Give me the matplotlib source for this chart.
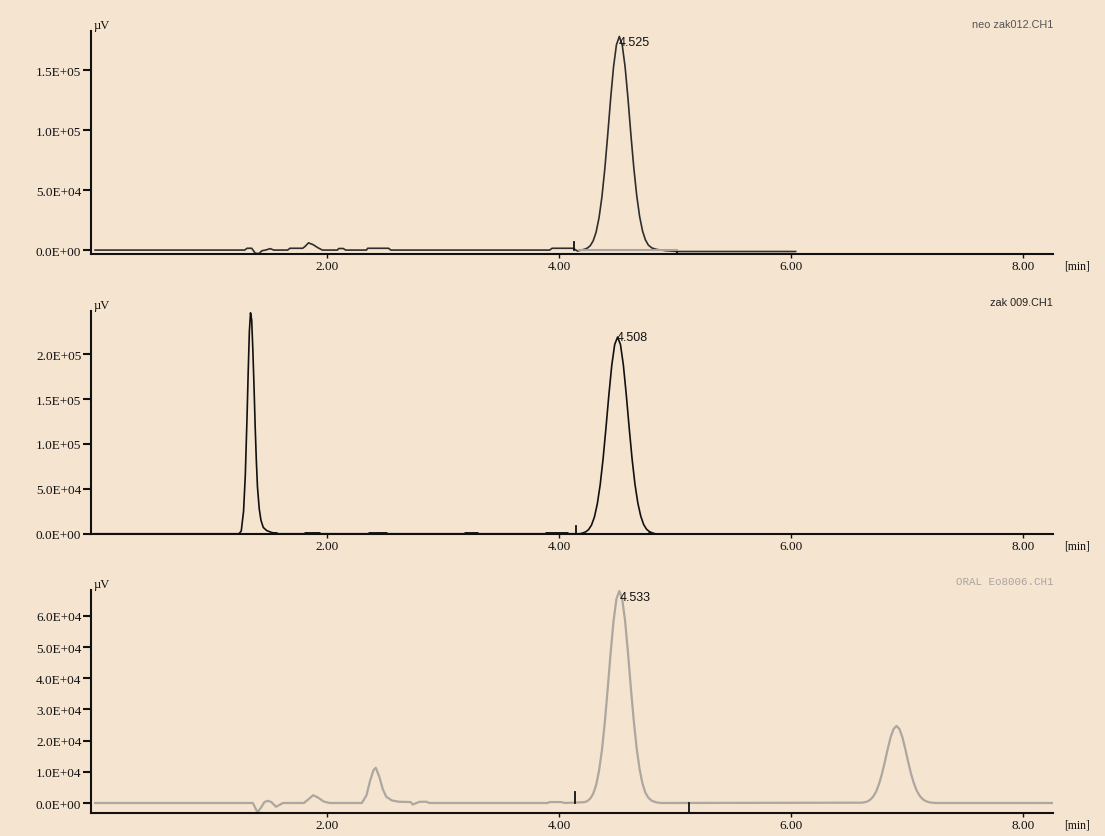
"""Three stacked HPLC chromatograms (uV vs. retention time in minutes)."""

import matplotlib

matplotlib.use("Agg")
import matplotlib.pyplot as plt
from matplotlib.ticker import FixedLocator, FuncFormatter

BG = "#f5e4d0"

# ---- trace 1: neo zak012.CH1 ----------------------------------------------
t1 = [0.00, 1.29, 1.31, 1.35, 1.38, 1.41, 1.44, 1.47, 1.51, 1.54, 1.66, 1.68,
      1.79, 1.81, 1.84, 1.88, 1.92, 1.96, 2.09, 2.10, 2.14, 2.16, 2.34, 2.35,
      2.53, 2.55, 3.00, 3.50, 3.92, 3.94, 4.12, 4.16, 4.22, 4.245, 4.27, 4.295,
      4.32, 4.345, 4.37, 4.395, 4.42, 4.445, 4.47, 4.495, 4.52, 4.545, 4.57,
      4.595, 4.62, 4.645, 4.67, 4.695, 4.72, 4.745, 4.77, 4.80, 4.84, 4.88,
      4.92, 5.02, 5.50, 6.04]
v1 = [0, 0, 1500, 1500, -2500, -3000, -500, 0, 1200, 0, 0, 1500,
      1500, 3000, 6000, 4500, 2000, 0, 0, 1300, 1300, 0, 0, 1500,
      1500, 0, 0, 0, 0, 1500, 1500, -800, 700, 1700, 3700, 7800,
      15000, 26900, 44300, 67800, 96000, 126000, 152500, 171000, 178000, 171000, 152500,
      126000, 96000, 68500, 45500, 28000, 16000, 8500, 4200, 1800, 600, 0,
      -500, -1200, -1200, -1200]

# ---- trace 2: zak 009.CH1 --------------------------------------------------
t2 = [0.00, 1.24, 1.26, 1.28, 1.295, 1.31, 1.32, 1.33, 1.34, 1.35, 1.36, 1.37,
      1.38, 1.39, 1.40, 1.415, 1.43, 1.45, 1.48, 1.52, 1.56, 1.58, 4.18, 4.205,
      4.23, 4.255, 4.28, 4.305, 4.33, 4.355, 4.38, 4.405, 4.43, 4.455, 4.48,
      4.505, 4.53, 4.555, 4.58, 4.605, 4.63, 4.655, 4.68, 4.705, 4.73, 4.755,
      4.78, 4.805, 4.83]
v2 = [0, 0, 3000, 25000, 65000, 130000, 180000, 225000, 246000, 238000, 205000,
      165000, 120000, 82000, 52000, 28000, 15000, 7000, 3500, 1500, 300, 0, 0, 850,
      2060, 4600, 9640, 18500, 33100, 54500, 83400, 118000, 154800, 187700, 210700,
      219000, 210700, 187700, 154800, 118000, 83400, 55000, 34000, 19500, 10200, 5000,
      2300, 900, 0]

# ---- trace 3: ORAL Eo8006.CH1 ----------------------------------------------
t3 = [0.00, 1.36, 1.38, 1.40, 1.43, 1.46, 1.49, 1.52, 1.56, 1.59, 1.62, 1.80,
      1.84, 1.88, 1.92, 1.97, 2.02, 2.30, 2.34, 2.37, 2.40, 2.42, 2.45, 2.48,
      2.51, 2.56, 2.62, 2.72, 2.74, 2.77, 2.80, 2.86, 2.88, 3.90, 3.92, 4.02,
      4.05, 4.22, 4.245, 4.27, 4.295, 4.32, 4.345, 4.37, 4.395, 4.42, 4.445,
      4.47, 4.495, 4.52, 4.545, 4.57, 4.595, 4.62, 4.645, 4.67, 4.695, 4.72,
      4.745, 4.77, 4.80, 4.84, 4.88, 6.61, 6.635, 6.66, 6.685, 6.71, 6.735,
      6.76, 6.785, 6.81, 6.835, 6.86, 6.885, 6.91, 6.935, 6.96, 6.985, 7.01,
      7.035, 7.06, 7.085, 7.11, 7.135, 7.16, 7.185, 7.21, 7.25, 8.26]
v3 = [0, 0, -1500, -3000, -1500, 300, 700, 300, -1200, -600, 0, 0,
      1200, 2500, 1800, 500, 0, 0, 2500, 7000, 10500, 11300, 8500, 4500,
      2000, 800, 400, 300, -500, 0, 400, 400, 0, 0, 300, 300,
      0, 265, 640, 1430, 3000, 5750, 10300, 16900, 25900, 36650, 48100,
      58300, 65400, 68000, 65400, 58300, 48100, 36650, 26200, 17400, 10800, 6200,
      3300, 1700, 700, 200, 0, 100, 230, 520, 1090, 2090, 3730,
      6150, 9410, 13300, 17460, 21170, 23760, 24700, 23760, 21170, 17460, 13300,
      9410, 6300, 3900, 2300, 1250, 650, 300, 120, 0, 0]

# integration marks: (time, low, high)
marks1 = [(4.13, 0, 7000), (5.02, -3300, -1200)]
marks2 = [(4.15, 0, 9000)]
marks3 = [(4.14, 0, 3500), (5.12, -3200, 0)]

# thick baseline marks on trace 2
thick2 = [(1.53, 1.57), (1.80, 1.94), (2.35, 2.52), (3.18, 3.30), (3.88, 4.08),
          (4.77, 4.80)]

names = ["neo zak012.CH1", "zak 009.CH1", "ORAL Eo8006.CH1"]
peak_labels = ["4.525", "4.508", "4.533"]
peak_times = [4.525, 4.508, 4.533]
peak_heights = [178000, 219000, 68000]
yticks = [[0, 5e4, 1e5, 1.5e5],
          [0, 5e4, 1e5, 1.5e5, 2e5],
          [0, 1e4, 2e4, 3e4, 4e4, 5e4, 6e4]]
xticks = [2, 4, 6, 8]

ylims = [(-3300, 182500), (-300, 248000), (-3200, 68300)]
rects = [[0.0824, 0.6953, 0.8706, 0.2664],
         [0.0824, 0.3608, 0.8706, 0.2664],
         [0.0824, 0.0275, 0.8706, 0.2664]]
colors = ["#2e2e2e", "#111111", "#aca79f"]
name_colors = ["#555555", "#222222", "#aaa59f"]
name_fonts = ["Liberation Sans", "Liberation Sans", "Liberation Mono"]
name_y = [1.031, 1.04, 1.04]
label_va = ["top", "center", "top"]

fig = plt.figure(figsize=(11.05, 8.37), dpi=100)
fig.patch.set_facecolor(BG)

traces = [(t1, v1), (t2, v2), (t3, v3)]
all_marks = [marks1, marks2, marks3]

for i in range(3):
    ax = fig.add_axes(rects[i])
    ax.set_facecolor(BG)
    ax.set_xlim(-0.035, 8.26)
    ax.set_ylim(*ylims[i])
    for side in ("top", "right"):
        ax.spines[side].set_visible(False)
    for side in ("left", "bottom"):
        ax.spines[side].set_linewidth(1.5)
        ax.spines[side].set_color("#111111")

    t, v = traces[i]
    lw = 1.2 if i < 2 else 1.6
    ax.plot(t, v, color=colors[i], lw=lw, solid_joinstyle="round")

    if i == 0:
        ax.plot([4.17, 5.02], [0, 0], color="#a9a49c", lw=1.5)
    if i == 1:
        for a, b in thick2:
            ax.plot([a, b], [0, 0], color="#111111", lw=3.5, solid_capstyle="butt")

    for tm, lo, hi in all_marks[i]:
        ax.plot([tm, tm], [lo, hi], color="#111111", lw=1.3)

    ax.yaxis.set_major_locator(FixedLocator(yticks[i]))
    ax.yaxis.set_major_formatter(FuncFormatter(lambda y, pos: f"{y:.1E}"))
    ax.xaxis.set_major_locator(FixedLocator(xticks))
    ax.xaxis.set_major_formatter(FuncFormatter(lambda x, pos: f"{x:.2f}"))
    ax.tick_params(axis="y", direction="out", length=6, width=1.5, pad=1,
                   colors="#111111")
    ax.tick_params(axis="x", direction="out", length=3, width=1, pad=1,
                   colors="#111111")
    for lab in ax.get_yticklabels() + ax.get_xticklabels():
        lab.set_fontfamily("Liberation Serif")
        lab.set_fontsize(9.5)

    ax.text(0.003, 1.0, "\u00b5V", transform=ax.transAxes, ha="left",
            va="bottom", fontsize=9, family="Liberation Serif",
            color="#111111")
    ax.text(1.011, -0.025, "[min]", transform=ax.transAxes, ha="left",
            va="top", fontsize=8.5, family="Liberation Serif",
            color="#111111")
    ax.text(1.0, name_y[i], names[i], transform=ax.transAxes, ha="right",
            va="center", fontsize=7.8, family=name_fonts[i],
            color=name_colors[i])
    ax.text(peak_times[i] - 0.01, peak_heights[i], peak_labels[i], ha="left",
            va=label_va[i], fontsize=9, family="Liberation Sans",
            color="#111111")

fig.savefig("out.png", dpi=100, facecolor=BG)
